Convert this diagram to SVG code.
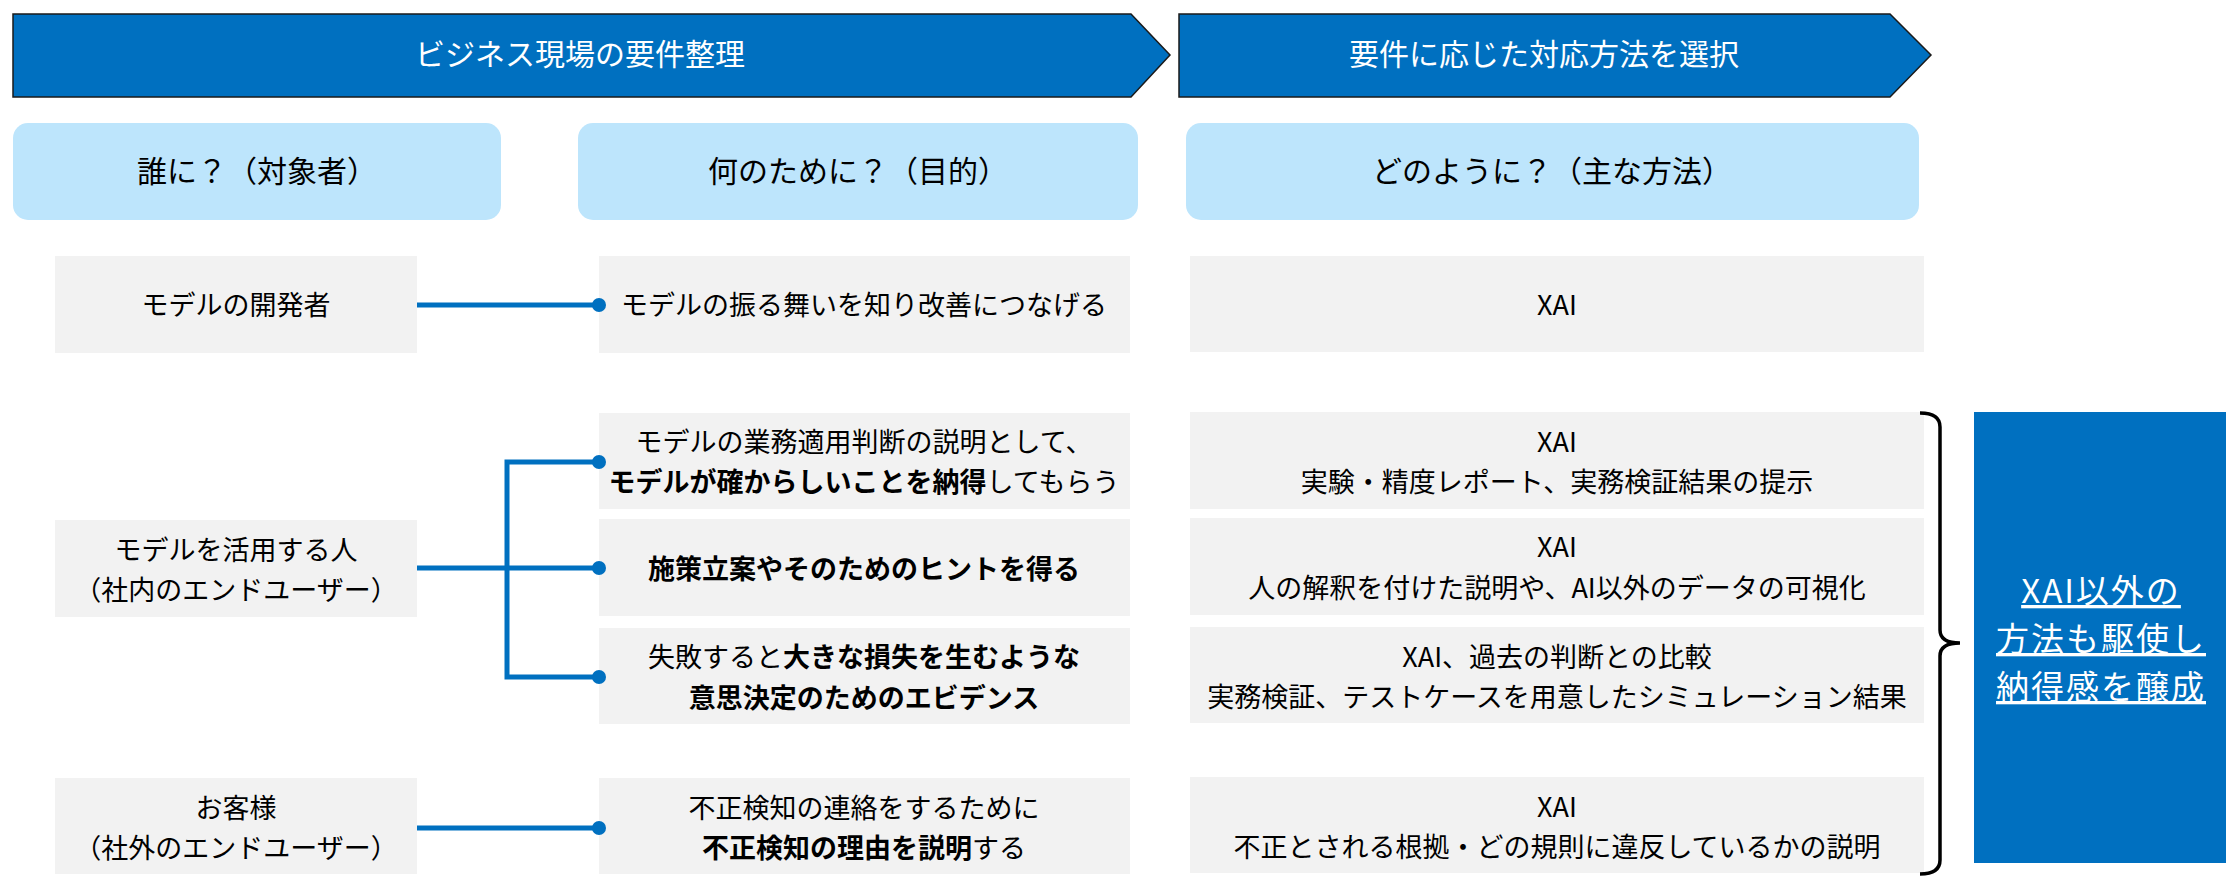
<svg xmlns="http://www.w3.org/2000/svg" width="2232" height="884" viewBox="0 0 2232 884">
<style>
text{font-family:"Noto Sans CJK JP","Noto Sans",sans-serif;text-anchor:middle;fill:#000}
.bn{fill:#0070C0;stroke:#1a1a1a;stroke-width:1.5}
.bt{font-size:30px;fill:#fff}
.hd{fill:#BDE5FC}
.ht{font-size:30px}
.nd{fill:#F2F2F2}
.nt{font-size:27px}
.b{font-weight:bold}
.cn{stroke:#0070C0;stroke-width:5;fill:none}
.dot{fill:#0070C0}
.br{stroke:#000;stroke-width:3.5;fill:none}
.box{fill:#0070C0}
.bx{font-size:33px;fill:#fff;text-decoration:underline;letter-spacing:2px}
</style>
<g id="banner1"><path class="bn" d="M13,14 L1131,14 L1170,55 L1131,97 L13,97 Z"/><text class="bt" x="580" y="65">ビジネス現場の要件整理</text></g>
<g id="banner2"><path class="bn" d="M1179,14 L1890,14 L1931,55 L1890,97 L1179,97 Z"/><text class="bt" x="1544" y="65">要件に応じた対応方法を選択</text></g>
<g id="header-who"><rect class="hd" x="13" y="123" width="488" height="97" rx="15"/><text class="ht" x="257" y="182">誰に？（対象者）</text></g>
<g id="header-why"><rect class="hd" x="578" y="123" width="560" height="97" rx="15"/><text class="ht" x="858" y="182">何のために？（目的）</text></g>
<g id="header-how"><rect class="hd" x="1186" y="123" width="733" height="97" rx="15"/><text class="ht" x="1552" y="182">どのように？（主な方法）</text></g>

<g id="who-dev"><rect class="nd" x="55" y="256" width="362" height="97"/><text class="nt" x="236" y="315">モデルの開発者</text></g>
<g id="who-internal"><rect class="nd" x="55" y="520" width="362" height="97"/><text class="nt" x="236" y="560">モデルを活用する人</text><text class="nt" x="236" y="600">（社内のエンドユーザー）</text></g>
<g id="who-customer"><rect class="nd" x="55" y="778" width="362" height="96"/><text class="nt" x="236" y="818">お客様</text><text class="nt" x="236" y="858">（社外のエンドユーザー）</text></g>

<g id="why-improve"><rect class="nd" x="599" y="256" width="531" height="97"/><text class="nt" x="864" y="315">モデルの振る舞いを知り改善につなげる</text></g>
<g id="why-convince"><rect class="nd" x="599" y="413" width="531" height="96"/><text class="nt" x="864" y="452">モデルの業務適用判断の説明として、</text><text class="nt" x="864" y="492"><tspan class="b">モデルが確からしいことを納得</tspan>してもらう</text></g>
<g id="why-hint"><rect class="nd" x="599" y="519" width="531" height="97"/><text class="nt b" x="864" y="579">施策立案やそのためのヒントを得る</text></g>
<g id="why-evidence"><rect class="nd" x="599" y="628" width="531" height="96"/><text class="nt" x="864" y="667">失敗すると<tspan class="b">大きな損失を生むような</tspan></text><text class="nt b" x="864" y="708">意思決定のためのエビデンス</text></g>
<g id="why-fraud"><rect class="nd" x="599" y="778" width="531" height="96"/><text class="nt" x="864" y="818">不正検知の連絡をするために</text><text class="nt" x="864" y="858"><tspan class="b">不正検知の理由を説明</tspan>する</text></g>

<g id="how-1"><rect class="nd" x="1190" y="256" width="734" height="96"/><text class="nt" x="1557" y="315">XAI</text></g>
<g id="how-2"><rect class="nd" x="1190" y="412" width="734" height="97"/><text class="nt" x="1557" y="452">XAI</text><text class="nt" x="1557" y="492">実験・精度レポート、実務検証結果の提示</text></g>
<g id="how-3"><rect class="nd" x="1190" y="518" width="734" height="97"/><text class="nt" x="1557" y="557">XAI</text><text class="nt" x="1557" y="598">人の解釈を付けた説明や、AI以外のデータの可視化</text></g>
<g id="how-4"><rect class="nd" x="1190" y="627" width="734" height="96"/><text class="nt" x="1557" y="667">XAI、過去の判断との比較</text><text class="nt" x="1557" y="707">実務検証、テストケースを用意したシミュレーション結果</text></g>
<g id="how-5"><rect class="nd" x="1190" y="777" width="734" height="96"/><text class="nt" x="1557" y="817">XAI</text><text class="nt" x="1557" y="857">不正とされる根拠・どの規則に違反しているかの説明</text></g>

<g id="brace"><path class="br" d="M1920,413 Q1940,413 1940,427 L1940,630 Q1940,643 1960,643 Q1940,643 1940,656 L1940,860 Q1940,874 1920,874"/></g>
<g id="summary"><rect class="box" x="1974" y="412" width="252" height="451"/><text class="bx" x="2101" y="603">XAI以外の</text><text class="bx" x="2101" y="651">方法も駆使し</text><text class="bx" x="2101" y="699">納得感を醸成</text></g>

<g id="connectors">
<path class="cn" d="M417,305 H597"/>
<path class="cn" d="M417,568 H597"/>
<path class="cn" d="M597,462 H507 V677 H597"/>
<path class="cn" d="M417,828 H597"/>
<circle class="dot" cx="599" cy="305" r="7"/>
<circle class="dot" cx="599" cy="462" r="7"/>
<circle class="dot" cx="599" cy="568" r="7"/>
<circle class="dot" cx="599" cy="677" r="7"/>
<circle class="dot" cx="599" cy="828" r="7"/>
</g>
</svg>
